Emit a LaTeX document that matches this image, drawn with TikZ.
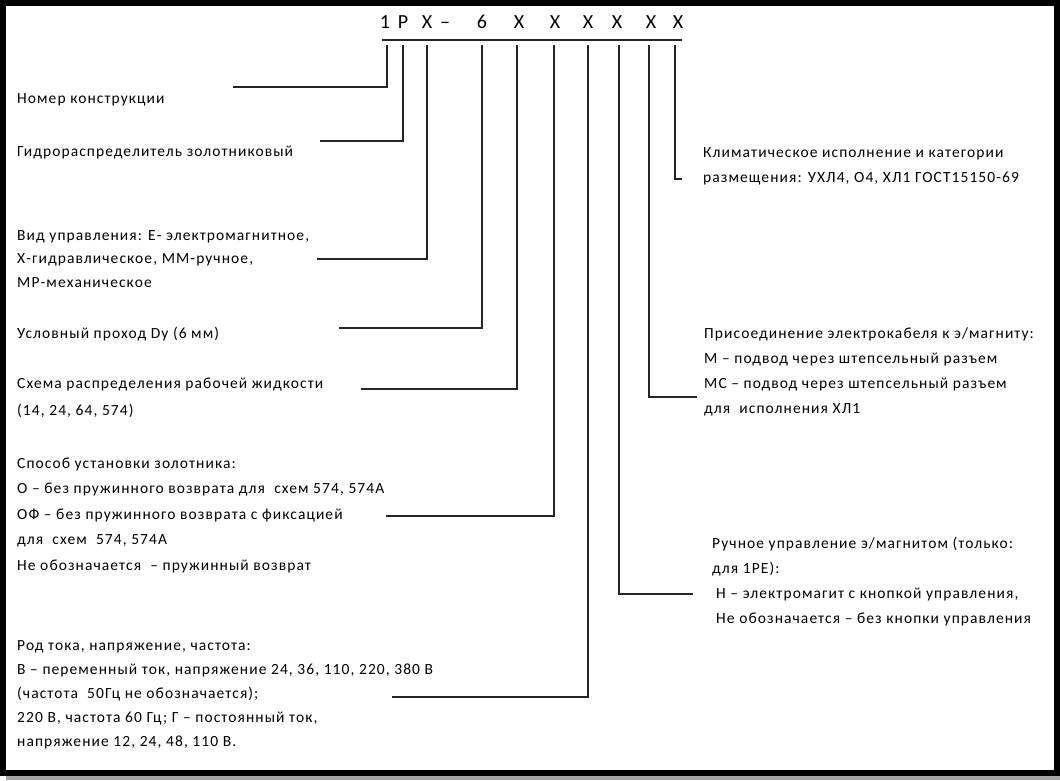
\documentclass[tikz,border=0pt]{standalone}
\usepackage{fontspec}
\setmainfont{Carlito}[LetterSpace=7]
\begin{document}
\begin{tikzpicture}[x=1pt,y=-1pt,
  conn/.style={draw=black!85,line width=1.3pt},
  txt/.style={anchor=base west,inner sep=0pt,align=left,font=\fontsize{15.5}{25}\selectfont},
  code/.style={anchor=base,inner sep=0pt,font=\fontsize{20}{20}\selectfont}]
\useasboundingbox (0,0) rectangle (1060,780);
\fill[white] (0,0) rectangle (1060,780);
\fill[black!35] (6,776) rectangle (1060,780);
\draw[line width=6pt,black] (3,3) rectangle (1057,773);
% header code
\node[code] (c1) at (385,28) {1};
\node[code] (c2) at (403,28) {Р};
\node[code] (c3) at (427,28) {Х};
\node[code] (c4) at (445,28) {–};
\node[code] (c5) at (482,28) {6};
\node[code] (c6) at (519,28) {Х};
\node[code] (c7) at (555,28) {Х};
\node[code] (c8) at (588,28) {Х};
\node[code] (c9) at (617,28) {Х};
\node[code] (c10) at (651,28) {Х};
\node[code] (c11) at (678,28) {Х};
\coordinate (hl) at (382,40);
\coordinate (hr) at (682,40);
\draw[conn,line width=1.6pt] (hl) -- (hr);
% tick tops
\coordinate (t1) at (387,45);
\coordinate (t2) at (403,45);
\coordinate (t3) at (427,45);
\coordinate (t4) at (482,45);
\coordinate (t5) at (517,45);
\coordinate (t6) at (554,45);
\coordinate (t7) at (588,45);
\coordinate (t8) at (619,45);
\coordinate (t9) at (649,45);
\coordinate (t10) at (675,45);
% connector ends
\coordinate (e1) at (233,87);
\coordinate (e2) at (320,141);
\coordinate (e3) at (317,259);
\coordinate (e4) at (339,328);
\coordinate (e5) at (361,389);
\coordinate (e6) at (386,516);
\coordinate (e7) at (392,697);
\coordinate (e8) at (693,594);
\coordinate (e9) at (697,397);
\coordinate (e10) at (682,179);
\foreach \i in {1,...,10} \draw[conn] (t\i) |- (e\i);
% left texts (anchor = baseline of last line)
\node[txt] (n1) at (17,103) {Номер конструкции};
\node[txt] (n2) at (17,156) {Гидрораспределитель золотниковый};
\node[txt,font=\fontsize{15.5}{23.5}\selectfont] (n3) at (17,287) {Вид управления: Е- электромагнитное,\\Х-гидравлическое, ММ-ручное,\\МР-механическое};
\node[txt] (n4) at (17,338) {Условный проход Dу (6 мм)};
\node[txt] (n5) at (17,415) {Схема распределения рабочей жидкости\\[2pt](14, 24, 64, 574)};
\node[txt,font=\fontsize{15.5}{25.4}\selectfont] (n6) at (17,570) {Способ установки золотника:\\О – без пружинного возврата для~ схем 574, 574А\\ОФ – без пружинного возврата с фиксацией\\для~ схем~ 574, 574А\\Не обозначается~ – пружинный возврат};
\node[txt,font=\fontsize{15.5}{24}\selectfont] (n7) at (17,746) {Род тока, напряжение, частота:\\В – переменный ток, напряжение 24, 36, 110, 220, 380 В\\(частота~ 50Гц не обозначается);\\220 В, частота 60 Гц; Г – постоянный ток,\\напряжение 12, 24, 48, 110 В.};
% right texts
\node[txt] (n8) at (703,182) {Климатическое исполнение и категории\\размещения: УХЛ4, О4, ХЛ1 ГОСТ15150-69};
\node[txt] (n9) at (704,413) {Присоединение электрокабеля к э/магниту:\\М – подвод через штепсельный разъем\\МС – подвод через штепсельный разъем\\для~ исполнения ХЛ1};
\node[txt] (n10) at (712,623) {Ручное управление э/магнитом (только:\\для 1РЕ):\\\hspace*{4pt}Н – электромагит с кнопкой управления,\\\hspace*{4pt}Не обозначается – без кнопки управления};
\end{tikzpicture}
\end{document}
